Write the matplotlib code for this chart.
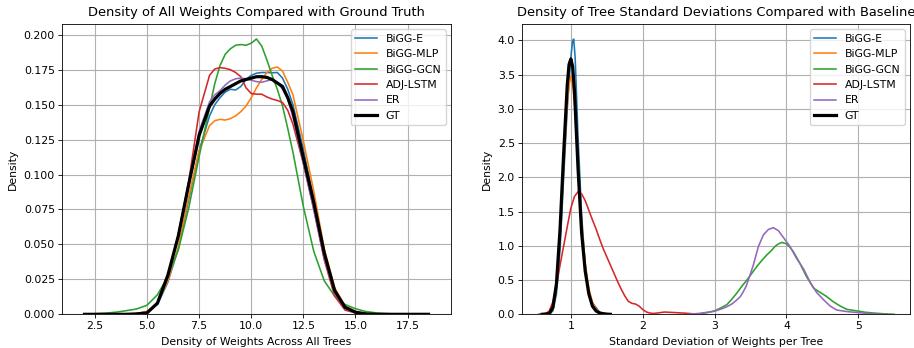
import matplotlib
matplotlib.use("Agg")
import matplotlib.pyplot as plt

labels = ["BiGG-E", "BiGG-MLP", "BiGG-GCN", "ADJ-LSTM", "ER", "GT"]
colors = ["#1f77b4", "#ff7f0e", "#2ca02c", "#d62728", "#9467bd", "black"]

# ---- Left panel: density of all weights ----
w_x = [2, 2.5, 3, 3.5, 4, 4.5, 5, 5.5, 6, 6.5, 7, 7.5, 8, 8.25, 8.5, 8.75, 9, 9.25,
       9.5, 9.75, 10, 10.25, 10.5, 10.75, 11, 11.25, 11.5, 11.75, 12, 12.5, 13,
       13.5, 14, 14.5, 15, 15.5, 16, 16.5, 17, 17.5, 18, 18.5]
w_bigg_e = [0, 0, 0, 0, 0, 0.0005, 0.002, 0.007, 0.023, 0.047, 0.082, 0.117, 0.142,
            0.150, 0.155, 0.159, 0.161, 0.1605, 0.163, 0.168, 0.171, 0.1725, 0.173,
            0.173, 0.1728, 0.173, 0.169, 0.161, 0.150, 0.118, 0.082, 0.045, 0.017,
            0.005, 0.0015, 0.0003, 0, 0, 0, 0, 0, 0]
w_bigg_mlp = [0, 0, 0, 0, 0, 0.0005, 0.002, 0.008, 0.024, 0.048, 0.084, 0.117, 0.135,
              0.1385, 0.1395, 0.139, 0.140, 0.142, 0.145, 0.149, 0.155, 0.162, 0.168,
              0.173, 0.176, 0.177, 0.174, 0.166, 0.157, 0.124, 0.088, 0.047, 0.019,
              0.006, 0.002, 0.0005, 0, 0, 0, 0, 0, 0]
w_bigg_gcn = [0.0002, 0.0004, 0.0008, 0.0015, 0.0026, 0.0038, 0.0065, 0.014, 0.027,
              0.046, 0.076, 0.113, 0.148, 0.165, 0.178, 0.186, 0.190, 0.1925, 0.193,
              0.1925, 0.194, 0.197, 0.192, 0.182, 0.171, 0.161, 0.149, 0.133, 0.116,
              0.077, 0.045, 0.024, 0.013, 0.007, 0.004, 0.002, 0.001, 0.0005, 0.0002,
              0.0001, 0, 0]
w_adj_lstm = [0, 0, 0, 0, 0, 0.0003, 0.001, 0.008, 0.027, 0.057, 0.095, 0.145, 0.171,
              0.1755, 0.1765, 0.176, 0.175, 0.173, 0.170, 0.162, 0.158, 0.1575, 0.1575,
              0.1555, 0.154, 0.153, 0.1515, 0.146, 0.136, 0.108, 0.075, 0.039, 0.013,
              0.003, 0.001, 0.0002, 0, 0, 0, 0, 0, 0]
w_er = [0, 0, 0, 0, 0, 0.0003, 0.001, 0.008, 0.027, 0.057, 0.094, 0.131, 0.152, 0.157,
        0.160, 0.164, 0.167, 0.1685, 0.169, 0.1685, 0.1675, 0.1665, 0.166, 0.167,
        0.168, 0.166, 0.161, 0.154, 0.141, 0.108, 0.075, 0.040, 0.015, 0.004, 0.001,
        0.0002, 0, 0, 0, 0, 0, 0]
w_gt = [0, 0, 0, 0, 0, 0.0003, 0.001, 0.008, 0.028, 0.056, 0.093, 0.128, 0.149, 0.154,
        0.158, 0.161, 0.163, 0.165, 0.167, 0.168, 0.169, 0.170, 0.170, 0.1695, 0.168,
        0.1655, 0.163, 0.155, 0.145, 0.112, 0.080, 0.044, 0.017, 0.005, 0.0015,
        0.0003, 0, 0, 0, 0, 0, 0]

# ---- Right panel: density of tree standard deviations ----
s_bigg_e_x = [0.7, 0.75, 0.8, 0.85, 0.9, 0.95, 0.975, 1.0, 1.025, 1.04, 1.06, 1.1,
              1.15, 1.2, 1.25, 1.3, 1.35, 1.4, 1.45, 1.5]
s_bigg_e_y = [0, 0.05, 0.3, 0.95, 2.0, 3.0, 3.4, 3.75, 4.0, 4.02, 3.75, 2.6, 1.45,
              0.7, 0.33, 0.17, 0.1, 0.03, 0.005, 0]
s_bigg_mlp_x = [0.7, 0.75, 0.8, 0.85, 0.9, 0.95, 0.975, 1.0, 1.025, 1.05, 1.1, 1.15,
                1.2, 1.25, 1.3, 1.35, 1.4, 1.45, 1.5]
s_bigg_mlp_y = [0, 0.08, 0.4, 1.15, 2.2, 3.05, 3.35, 3.47, 3.35, 3.1, 2.2, 1.35,
                0.75, 0.38, 0.18, 0.08, 0.03, 0.005, 0]
s_bigg_gcn_x = [2.75, 2.9, 3.0, 3.08, 3.17, 3.24, 3.31, 3.38, 3.45, 3.52, 3.59, 3.66,
                3.73, 3.79, 3.84, 3.89, 3.94, 4.0, 4.05, 4.1, 4.19, 4.28, 4.38, 4.47,
                4.56, 4.65, 4.75, 4.84, 4.98, 5.1, 5.2, 5.35, 5.5]
s_bigg_gcn_y = [0, 0.025, 0.05, 0.09, 0.14, 0.22, 0.31, 0.41, 0.50, 0.60, 0.70, 0.79,
                0.87, 0.93, 0.99, 1.03, 1.05, 1.03, 0.98, 0.91, 0.74, 0.55, 0.38, 0.32,
                0.26, 0.185, 0.12, 0.073, 0.05, 0.03, 0.02, 0.008, 0]
s_adj_lstm_x = [0.55, 0.65, 0.7, 0.75, 0.8, 0.85, 0.9, 0.95, 1.0, 1.05, 1.1, 1.15,
                1.2, 1.25, 1.3, 1.35, 1.4, 1.45, 1.5, 1.55, 1.6, 1.65, 1.7, 1.75, 1.8,
                1.85, 1.9, 1.95, 2.0, 2.05, 2.1, 2.15, 2.2, 2.3, 2.4, 2.5, 2.6, 2.7,
                2.8]
s_adj_lstm_y = [0, 0.01, 0.05, 0.18, 0.42, 0.72, 1.0, 1.28, 1.55, 1.72, 1.79, 1.76,
                1.66, 1.52, 1.38, 1.25, 1.1, 0.96, 0.84, 0.72, 0.6, 0.48, 0.37, 0.27,
                0.19, 0.16, 0.15, 0.12, 0.07, 0.035, 0.018, 0.013, 0.018, 0.033, 0.028,
                0.022, 0.016, 0.008, 0]
s_er_x = [2.63, 2.8, 3.0, 3.1, 3.17, 3.24, 3.31, 3.36, 3.40, 3.44, 3.47, 3.54, 3.61,
          3.68, 3.75, 3.82, 3.89, 3.96, 4.05, 4.14, 4.24, 4.33, 4.42, 4.52, 4.61, 4.7,
          4.84, 5.0, 5.15, 5.3, 5.4]
s_er_y = [0, 0.015, 0.045, 0.08, 0.11, 0.15, 0.21, 0.26, 0.33, 0.41, 0.50, 0.72, 0.99,
          1.16, 1.24, 1.265, 1.22, 1.12, 0.99, 0.82, 0.66, 0.47, 0.32, 0.21, 0.12,
          0.063, 0.04, 0.025, 0.01, 0.002, 0]
s_gt_x = [0.6, 0.7, 0.75, 0.8, 0.85, 0.9, 0.95, 0.975, 1.0, 1.025, 1.05, 1.1, 1.15,
          1.2, 1.25, 1.3, 1.35, 1.4, 1.45, 1.5, 1.55]
s_gt_y = [0, 0.01, 0.1, 0.45, 1.25, 2.35, 3.35, 3.65, 3.73, 3.62, 3.27, 2.13, 1.19,
          0.63, 0.3, 0.12, 0.05, 0.02, 0.01, 0.003, 0]

FS = 7.8
fig = plt.figure(figsize=(9.14, 3.48), dpi=100)
ax1 = fig.add_axes([0.0678, 0.0968, 0.4256, 0.8342])
ax2 = fig.add_axes([0.5711, 0.0968, 0.4245, 0.8342])

w_series = [w_bigg_e, w_bigg_mlp, w_bigg_gcn, w_adj_lstm, w_er, w_gt]
for ys, lab, c in zip(w_series, labels, colors):
    lw = 2.3 if lab == "GT" else 1.15
    ax1.plot(w_x, ys, color=c, lw=lw, label=lab)

s_series = [(s_bigg_e_x, s_bigg_e_y), (s_bigg_mlp_x, s_bigg_mlp_y),
            (s_bigg_gcn_x, s_bigg_gcn_y), (s_adj_lstm_x, s_adj_lstm_y),
            (s_er_x, s_er_y), (s_gt_x, s_gt_y)]
for (xs, ys), lab, c in zip(s_series, labels, colors):
    lw = 2.3 if lab == "GT" else 1.15
    ax2.plot(xs, ys, color=c, lw=lw, label=lab)

ax1.set_xlim(0.92, 19.58)
ax1.set_ylim(0, 0.2077)
ax1.set_xticks([2.5, 5.0, 7.5, 10.0, 12.5, 15.0, 17.5])
ax1.set_yticks([0, 0.025, 0.05, 0.075, 0.1, 0.125, 0.15, 0.175, 0.2])
ax1.set_yticklabels(["0.000", "0.025", "0.050", "0.075", "0.100", "0.125", "0.150", "0.175", "0.200"])
ax1.set_title("Density of All Weights Compared with Ground Truth", fontsize=9.4)
ax1.set_xlabel("Density of Weights Across All Trees", fontsize=FS)
ax1.set_ylabel("Density", fontsize=FS)

ax2.set_xlim(0.32, 5.72)
ax2.set_ylim(0, 4.24)
ax2.set_xticks([1, 2, 3, 4, 5])
ax2.set_yticks([0, 0.5, 1.0, 1.5, 2.0, 2.5, 3.0, 3.5, 4.0])
ax2.set_title("Density of Tree Standard Deviations Compared with Baseline", fontsize=9.4)
ax2.set_xlabel("Standard Deviation of Weights per Tree", fontsize=FS)
ax2.set_ylabel("Density", fontsize=FS)

for ax in (ax1, ax2):
    ax.grid(True, color="#b0b0b0", lw=0.8)
    ax.set_axisbelow(True)
    ax.tick_params(labelsize=FS, length=2.6, width=0.6, pad=2.5)
    for sp in ax.spines.values():
        sp.set_linewidth(0.6)
    ax.legend(loc="upper right", fontsize=FS, labelspacing=0.5, handlelength=2.0,
              borderpad=0.4, framealpha=0.8)

fig.savefig("out.png", dpi=100)
